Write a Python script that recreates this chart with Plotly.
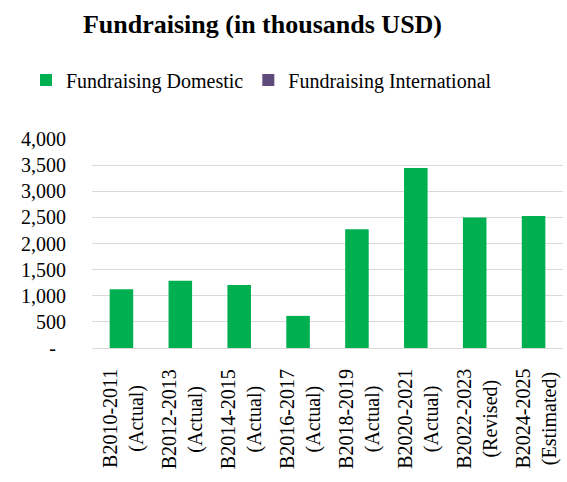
import plotly.graph_objects as go

# Biennium labels and fundraising totals (thousands USD)
periods = ["B2010-2011", "B2012-2013", "B2014-2015", "B2016-2017",
           "B2018-2019", "B2020-2021", "B2022-2023", "B2024-2025"]
statuses = ["(Actual)", "(Actual)", "(Actual)", "(Actual)",
            "(Actual)", "(Actual)", "(Revised)", "(Estimated)"]
domestic = [1125, 1285, 1205, 615, 2275, 3445, 2500, 2525]
international = [0, 0, 0, 0, 0, 0, 0, 0]

y_ticks = [0, 500, 1000, 1500, 2000, 2500, 3000, 3500, 4000]
y_tick_text = ["-\u00a0\u00a0", "500", "1,000", "1,500", "2,000",
               "2,500", "3,000", "3,500", "4,000"]

GREEN = "#00B050"
PURPLE = "#604A7B"
FONT = "Liberation Serif"

fig = go.Figure()
fig.add_trace(go.Bar(x=periods, y=domestic, name="Fundraising Domestic",
                     marker=dict(color=GREEN, line=dict(width=0))))
fig.add_trace(go.Bar(x=periods, y=international, name="Fundraising International",
                     marker=dict(color=PURPLE, line=dict(width=0))))

# Two-line category labels, rotated and centred under each bar
for p, s in zip(periods, statuses):
    fig.add_annotation(x=p, y=0, xref="x", yref="paper",
                       text=f"{p}<br>{s}", textangle=-90, showarrow=False,
                       align="center", xanchor="center", yanchor="top",
                       yshift=-19, xshift=2,
                       font=dict(family=FONT, size=20, color="#000000"))

fig.update_layout(
    width=567, height=482,
    margin=dict(l=92, r=4, t=139, b=134),
    paper_bgcolor="white", plot_bgcolor="white",
    barmode="overlay", bargap=0.6,
    title=dict(text="<b>Fundraising (in thousands USD)</b>",
               x=262.5 / 567, xanchor="center", xref="container",
               y=1 - 24 / 482, yanchor="middle", yref="container",
               font=dict(family=FONT, size=26, color="#000000")),
    legend=dict(orientation="h", xref="container", yref="container",
                x=26 / 567, xanchor="left", y=1 - 80 / 482, yanchor="middle",
                font=dict(family=FONT, size=20, color="#000000"),
                itemwidth=30, traceorder="normal"),
    font=dict(family=FONT, color="#000000"),
)
fig.update_xaxes(showticklabels=False, showgrid=False, zeroline=False,
                 showline=False, ticks="")
fig.update_yaxes(range=[0, 4000], tickvals=y_ticks, ticktext=y_tick_text,
                 showgrid=True, gridcolor="#D9D9D9", gridwidth=1,
                 zeroline=True, zerolinecolor="#D9D9D9", zerolinewidth=1,
                 showline=False, ticks="", ticklabelstandoff=25,
                 tickfont=dict(family=FONT, size=20, color="#000000"))

fig.write_html("out.html")
